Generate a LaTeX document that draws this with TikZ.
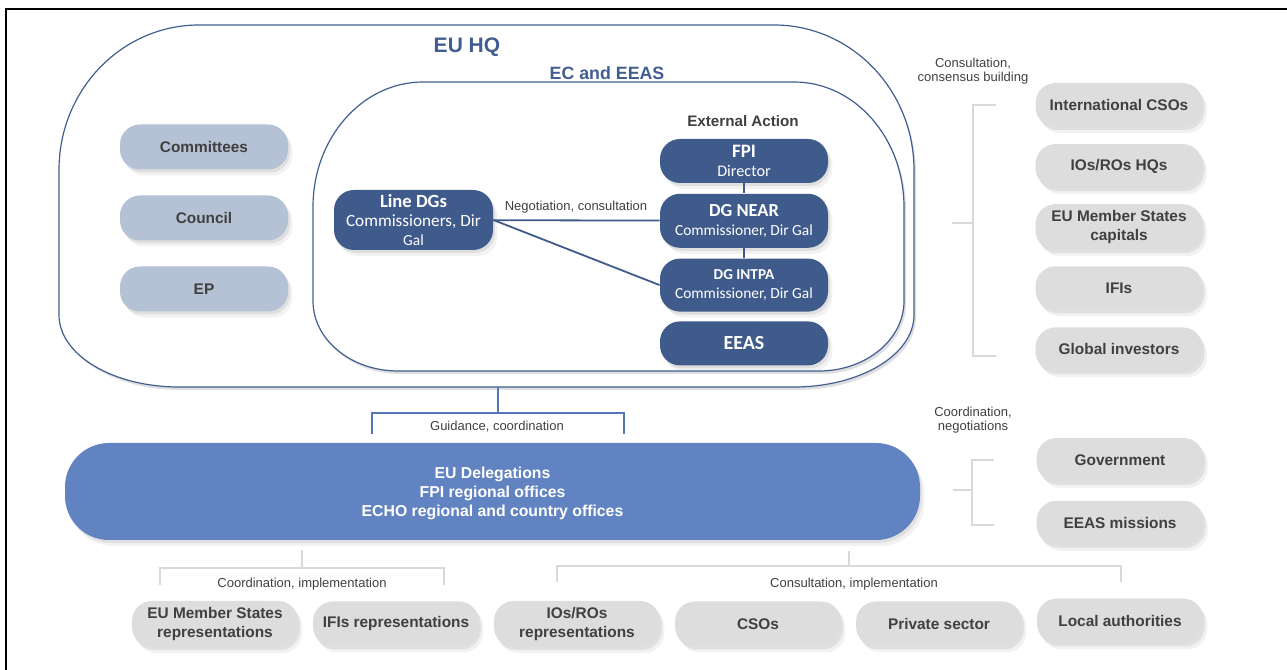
\documentclass[tikz,border=0pt]{standalone}
\usepackage{fontspec}
\setmainfont{Liberation Sans}
\newfontfamily\carlito{Carlito}
\usetikzlibrary{positioning,shadows}

\definecolor{hqcol}{RGB}{66,94,144}
\definecolor{darkcol}{RGB}{63,91,140}
\definecolor{delcol}{RGB}{98,131,194}
\definecolor{palecol}{RGB}{181,193,212}
\definecolor{greycol}{RGB}{221,221,221}
\definecolor{linecol}{RGB}{217,217,217}
\definecolor{textcol}{RGB}{64,64,64}
\definecolor{guidecol}{RGB}{84,118,182}

\newcommand{\setsz}[2]{\fontsize{#1}{#2}\selectfont}

\tikzset{
  softshadow/.style={drop shadow={opacity=.16,shadow xshift=1pt,shadow yshift=-1.5pt},
                     drop shadow={opacity=.10,shadow xshift=2.2pt,shadow yshift=-3pt}},
  hqline/.style={draw=hqcol,line width=0.6pt,fill=white,
                 drop shadow={opacity=.25,shadow xshift=1pt,shadow yshift=-1.5pt}},
  palebox/.style={softshadow,fill=palecol,rounded corners=10pt,minimum width=84pt,
                  minimum height=22.5pt,text=textcol,align=center,font=\bfseries\setsz{7.7}{9.2}},
  greybox/.style={palebox,fill=greycol,minimum width=83.5pt,minimum height=22pt},
  darkbox/.style={softshadow,fill=darkcol,rounded corners=10pt,minimum width=84pt,
                  text=white,align=center,inner sep=1pt,font=\carlito\setsz{7.7}{9.5}},
  darkline/.style={draw=darkcol,line width=0.9pt},
  bracket/.style={draw=linecol,line width=1pt},
  guide/.style={draw=guidecol,line width=1pt},
  lbl/.style={text=textcol,inner sep=0pt,align=center,font=\setsz{6.5}{7.3}},
}

\begin{document}
\begin{tikzpicture}[x=0.5pt,y=0.5pt]
\useasboundingbox (0,0) rectangle (1287,670);
% frame
\draw[line width=1pt] (5.5,-20) |- (1287,661);

% EU HQ and EC / EEAS outlines
\draw[hqline] (59,355) -- (59,500) arc[start angle=180,end angle=90,x radius=140,y radius=145]
  -- (774,645) arc[start angle=90,end angle=0,x radius=140,y radius=145]
  -- (914,355) arc[start angle=0,end angle=-90,x radius=120,y radius=72]
  -- (179,283) arc[start angle=270,end angle=180,x radius=120,y radius=72] -- cycle;
\draw[hqline] (313,369) -- (313,463) arc[start angle=180,end angle=90,x radius=110,y radius=125]
  -- (794,588) arc[start angle=90,end angle=0,x radius=110,y radius=125]
  -- (904,369) arc[start angle=0,end angle=-90,x radius=85,y radius=70]
  -- (398,299) arc[start angle=270,end angle=180,x radius=85,y radius=70] -- cycle;
\node[anchor=base,text=hqcol,font=\bfseries\setsz{10.5}{12}] (hq) at (467,617) {EU HQ};
\node[anchor=base,text=hqcol,font=\bfseries\setsz{8.9}{10}] (ec) at (607,590) {EC and EEAS};
\node[anchor=base,text=textcol,font=\bfseries\setsz{7.6}{9}] (ext) at (743,543) {External Action};

% committees, council, EP
\foreach \t [count=\i] in {Committees,Council,EP}
  \node[palebox] (pale-\i) at (204,{523-(\i-1)*71}) {\t};

% external action column
\node[darkbox,minimum height=22pt] (fpi) at (744,509) {{\bfseries\setsz{9.5}{9.5}FPI}\\\setsz{8.1}{9.5}Director};
\node[darkbox,minimum height=27pt,below=5pt of fpi] (near) {{\bfseries\setsz{9.2}{9.5}DG NEAR}\\Commissioner, Dir Gal};
\node[darkbox,minimum height=26.5pt,below=5pt of near] (intpa) {{\bfseries\setsz{7.6}{9.5}DG INTPA}\\Commissioner, Dir Gal};
\node[darkbox,minimum height=22pt,below=4.5pt of intpa] (eeas) {\bfseries\setsz{10}{11}EEAS};
\node[darkbox,minimum width=79.5pt,minimum height=30pt] (linedg) at (413.5,450)
  {{\bfseries\setsz{9.3}{9.5}Line DGs}\\\setsz{8.6}{9.5}Commissioners, Dir\\Gal};

\draw[darkline] (fpi) -- (near);
\draw[darkline] (near) -- (intpa);
\draw[darkline] (linedg) -- (near);
\draw[darkline] (linedg.east) -- (intpa.west);
\node[lbl,anchor=base] (neg) at (576,459) {Negotiation, consultation};

% partners at HQ level
\node[lbl,anchor=base] (cons) at (973,588) {Consultation,\\consensus building};
\foreach \t [count=\i] in {International CSOs,IOs/ROs HQs,{EU Member States\\capitals},IFIs,Global investors}
  \node[greybox] (ext-\i) at (1119,{565-(\i-1)*61.1}) {\t};
\coordinate (cb-t) at ([xshift=-19.5pt]ext-1.west);
\coordinate (cb-b) at ([xshift=-19.5pt,yshift=-3.5pt]ext-5.west);
\coordinate (cb-m) at (952,447);
\draw[bracket] (cb-t) -- ++(-23,0) |- (cb-b);
\draw[bracket] (cb-m) -- ++(21,0);

% partners at country level
\node[lbl,anchor=base] (coord) at (973,239) {Coordination,\\negotiations};
\node[greybox] (gov) at (1120,210) {Government};
\node[greybox,below=9pt of gov] (miss) {EEAS missions};
\coordinate (nb-t) at ([xshift=-21pt]gov.west);
\coordinate (nb-b) at ([xshift=-21pt,yshift=-1pt]miss.west);
\coordinate (nb-m) at (953,180);
\draw[bracket] (nb-t) -- ++(-22,0) |- (nb-b);
\draw[bracket] (nb-m) -- ++(20,0);

% guidance from HQ to delegations
\coordinate (hq-s) at (498,283);
\coordinate (g-m) at (498,257);
\coordinate (g-l) at (372,236);
\coordinate (g-r) at (624,236);
\draw[guide] (hq-s) -- (g-m);
\draw[guide] (g-l) |- (g-m) -| (g-r);
\node[lbl,anchor=base] (guid) at (497,239) {Guidance, coordination};

\node[softshadow,fill=delcol,rounded corners=22pt,minimum width=427.5pt,minimum height=48.5pt,
  text=white,align=center,text height=26.5pt,font=\bfseries\setsz{7.9}{9.5}] (deleg) at (492.5,178.5)
  {EU Delegations\\FPI regional offices\\ECHO regional and country offices};

% local partners
\coordinate (cl-t) at (302,120);
\coordinate (cl-m) at (302,102);
\coordinate (cl-l) at (160,85);
\coordinate (cl-r) at (444,85);
\draw[bracket] (cl-t) -- (cl-m);
\draw[bracket] (cl-l) |- (cl-m) -| (cl-r);
\node[lbl,anchor=base] (impl-l) at (302,82) {Coordination, implementation};
\coordinate (cr-t) at (849,119);
\coordinate (cr-m) at (849,104);
\coordinate (cr-l) at (557,88);
\coordinate (cr-r) at (1121,88);
\draw[bracket] (cr-t) -- (cr-m);
\draw[bracket] (cr-l) |- (cr-m) -| (cr-r);
\node[lbl,anchor=base] (impl-r) at (854,82) {Consultation, implementation};

\foreach \t [count=\i] in {{EU Member States\\representations},IFIs representations,{IOs/ROs\\representations},CSOs,Private sector}
  \node[greybox,minimum width=83pt,minimum height=22.5pt] (bot-\i) at ({215+(\i-1)*181},46) {\t};
\node[greybox,minimum width=83pt,minimum height=22.5pt] (bot-6) at (1120,49) {Local authorities};
\end{tikzpicture}
\end{document}
